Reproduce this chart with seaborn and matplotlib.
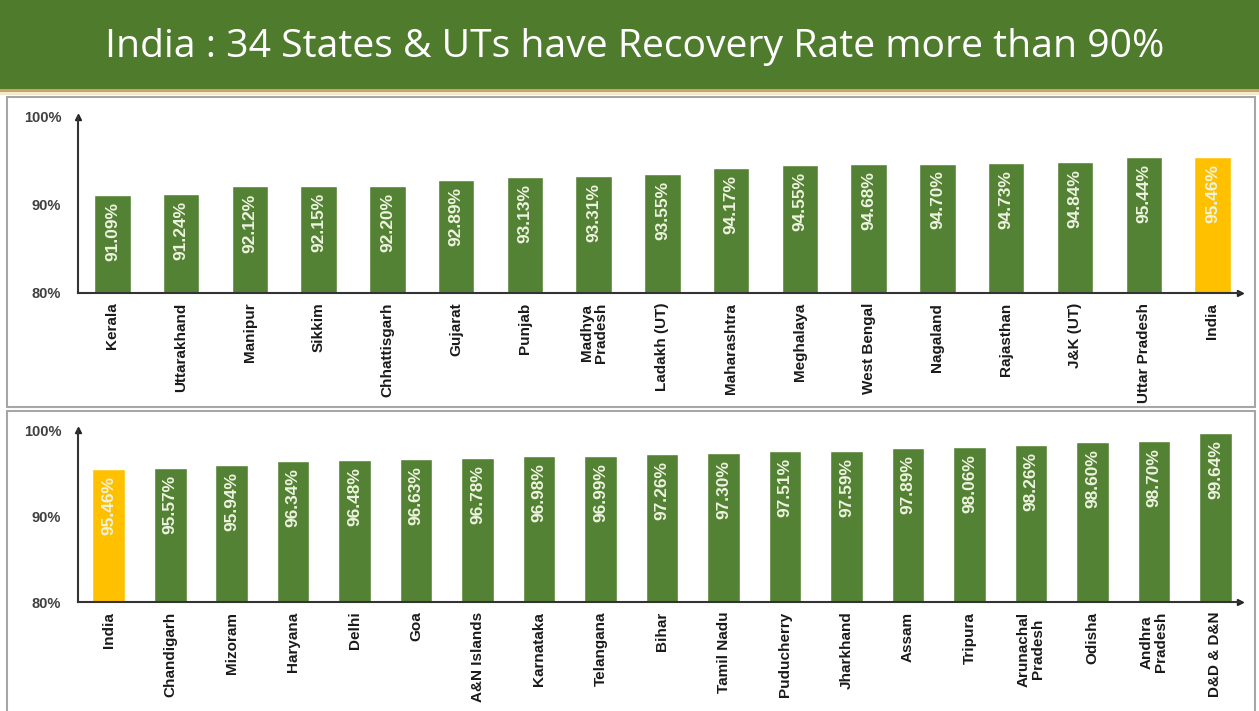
import matplotlib
matplotlib.use("Agg")
import matplotlib.pyplot as plt
import seaborn as sns
from matplotlib.patches import Rectangle

# --- dados ---
estados_1 = ["Kerala", "Uttarakhand", "Manipur", "Sikkim", "Chhattisgarh", "Gujarat",
             "Punjab", "Madhya\nPradesh", "Ladakh (UT)", "Maharashtra", "Meghalaya",
             "West Bengal", "Nagaland", "Rajasthan", "J&K (UT)", "Uttar Pradesh", "India"]
taxa_1 = [91.09, 91.24, 92.12, 92.15, 92.20, 92.89, 93.13, 93.31, 93.55, 94.17,
          94.55, 94.68, 94.70, 94.73, 94.84, 95.44, 95.46]

estados_2 = ["India", "Chandigarh", "Mizoram", "Haryana", "Delhi", "Goa", "A&N Islands",
             "Karnataka", "Telangana", "Bihar", "Tamil Nadu", "Puducherry", "Jharkhand",
             "Assam", "Tripura", "Arunachal\nPradesh", "Odisha", "Andhra\nPradesh", "D&D & D&N"]
taxa_2 = [95.46, 95.57, 95.94, 96.34, 96.48, 96.63, 96.78, 96.98, 96.99, 97.26,
          97.30, 97.51, 97.59, 97.89, 98.06, 98.26, 98.60, 98.70, 99.64]

y_ticks = [80, 90, 100]
y_tick_labels = ["80%", "90%", "100%"]

titulo = "India : 34 States & UTs have Recovery Rate more than 90%"

VERDE = "#548235"
AMARELO = "#FFC000"

sns.set_theme(style="white")
plt.rcParams["font.family"] = ["Liberation Sans", "DejaVu Sans"]

fig = plt.figure(figsize=(12.59, 7.11), dpi=100)
H = 711.0
W = 1259.0

# faixa do titulo
fig.patches.append(Rectangle((0, 1 - 89 / H), 1, 89 / H, transform=fig.transFigure,
                             facecolor="#4f7b2c", edgecolor="none", zorder=-1))
fig.patches.append(Rectangle((0, 1 - 92 / H), 1, 3 / H, transform=fig.transFigure,
                             facecolor="#c9a46a", edgecolor="none", zorder=-1))
fig.patches.append(Rectangle((0, 1 - 95 / H), 1, 3 / H, transform=fig.transFigure,
                             facecolor="#f3e9cf", edgecolor="none", zorder=-1))
fig.text(635 / W, 1 - 47 / H, titulo, color="white", fontsize=28.2, ha="center", va="center",
         family=["Open Sans", "DejaVu Sans"])

# caixas dos paineis
fig.patches.append(Rectangle((7 / W, 1 - 407 / H), 1248 / W, 310 / H, transform=fig.transFigure,
                             facecolor="white", edgecolor="#a6a6a6", linewidth=1.5, zorder=-1))
fig.patches.append(Rectangle((7 / W, -0.01), 1248 / W, 1 - 411 / H + 0.01, transform=fig.transFigure,
                             facecolor="white", edgecolor="#a6a6a6", linewidth=1.5, zorder=-1))


def painel(ax, nomes, valores):
    cores = [AMARELO if n == "India" else VERDE for n in nomes]
    sns.barplot(x=nomes, y=valores, hue=nomes, palette=cores, legend=False,
                width=0.53, ax=ax, saturation=1)
    ax.set_ylim(80, 100)
    ax.set_xlim(-0.5, len(nomes) - 0.6)
    ax.set_yticks(y_ticks)
    ax.set_yticklabels(y_tick_labels, fontsize=10.5, fontweight="bold", color="#404040")
    ax.tick_params(axis="y", length=0, pad=12)
    ax.tick_params(axis="x", length=0, pad=7)
    ax.set_xticks(range(len(nomes)))
    ax.set_xticklabels(nomes, rotation=90, fontsize=11, fontweight="bold",
                       va="top", ha="center", linespacing=1.0, color="#1a1a1a")
    for s in ["top", "right"]:
        ax.spines[s].set_visible(False)
    for s in ["left", "bottom"]:
        ax.spines[s].set_color("#333333")
        ax.spines[s].set_linewidth(1.5)
    ax.plot(1, 0, ">", color="#222222", markersize=5, transform=ax.transAxes, clip_on=False)
    ax.plot(0, 1, "^", color="#222222", markersize=5, transform=ax.transAxes, clip_on=False)
    ax.patch.set_alpha(0)
    for i, v in enumerate(valores):
        ax.annotate(f"{v:.2f}%", (i, v), xytext=(0, -5), textcoords="offset points",
                    rotation=90, ha="center", va="top", fontsize=12.5, fontweight="bold",
                    color="#eef3e0")


ax1 = fig.add_axes([78 / W, 1 - 293 / H, (1240 - 78) / W, 176 / H])
painel(ax1, estados_1, taxa_1)

ax2 = fig.add_axes([78 / W, 1 - 602 / H, (1240 - 78) / W, 172 / H])
painel(ax2, estados_2, taxa_2)

fig.savefig("out.png", dpi=100)
